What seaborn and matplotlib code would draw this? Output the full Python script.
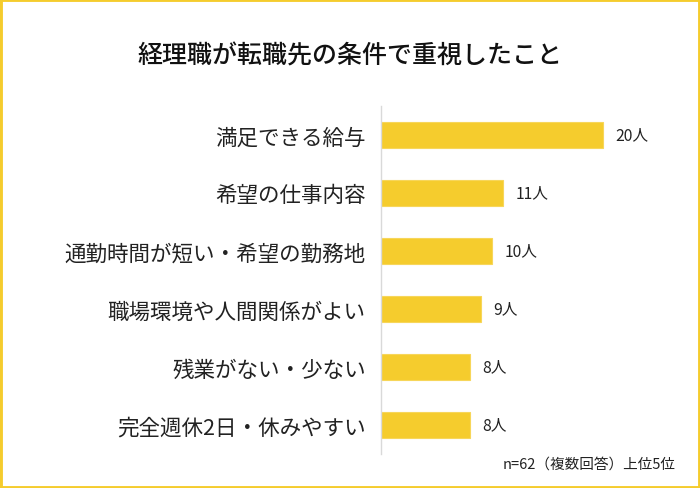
import matplotlib
matplotlib.use("Agg")
import matplotlib.pyplot as plt
import seaborn as sns
import pandas as pd
from matplotlib.patches import Rectangle

categories = ["満足できる給与", "希望の仕事内容", "通勤時間が短い・希望の勤務地",
              "職場環境や人間関係がよい", "残業がない・少ない", "完全週休2日・休みやすい"]
values = [20, 11, 10, 9, 8, 8]
value_labels = ["20人", "11人", "10人", "9人", "8人", "8人"]
title = "経理職が転職先の条件で重視したこと"
note = "n=62（複数回答）上位5位"

sns.set_theme(style="white")
plt.rcParams['font.family'] = ['Noto Sans CJK JP', 'DejaVu Sans']

df = pd.DataFrame({"category": categories, "value": values})

W, H = 700, 489
fig = plt.figure(figsize=(7, 4.89), dpi=100)
ax = fig.add_axes([381 / W, 1 - 455 / H, 266 / W, 348 / H])

yellow = "#F5CC2D"
sns.barplot(data=df, x="value", y="category", color=yellow, width=0.45,
            saturation=1, ax=ax, edgecolor="#F7D65A", linewidth=0.8)

ax.set_xlim(0, 24)
ax.set_ylim(len(categories) - 0.5, -0.5)
ax.set_xlabel("")
ax.set_ylabel("")
ax.set_xticks([])
for s in ["top", "right", "bottom"]:
    ax.spines[s].set_visible(False)
ax.spines["left"].set_color("#D9D9D9")
ax.spines["left"].set_linewidth(1)
ax.tick_params(axis="y", length=0, pad=11, labelsize=15.5, labelcolor="#222222")

for i, (v, lab) in enumerate(zip(values, value_labels)):
    ax.annotate(lab, xy=(v, i), xytext=(9, 0), textcoords="offset points",
                va="center", ha="left", fontsize=11.3, color="#222222")

fig.text(0.5, 1 - 57 / H, title, ha="center", va="center", fontsize=18,
         color="#111111", fontweight="medium")
fig.text(676 / W, 1 - 465 / H, note, ha="right", va="center", fontsize=10.5,
         color="#222222")

fig.patches.append(Rectangle((0, 0), 1, 1, transform=fig.transFigure,
                             fill=False, edgecolor=yellow, linewidth=3.5,
                             zorder=10))

fig.savefig("out.png", dpi=100)
